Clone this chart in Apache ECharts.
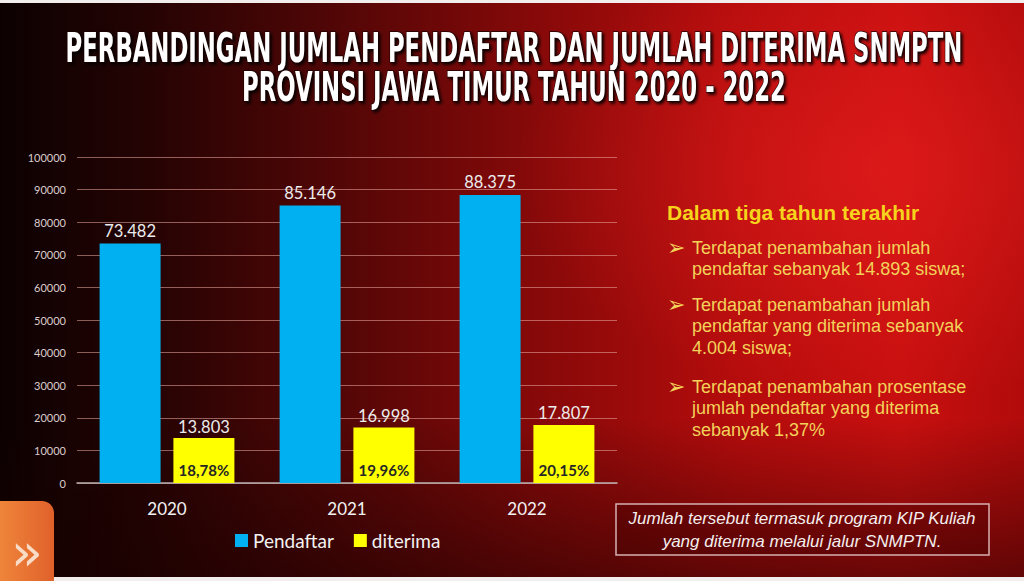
<!DOCTYPE html>
<html>
<head>
<meta charset="utf-8">
<script src="https://cdn.jsdelivr.net/npm/echarts@6/dist/echarts.min.js"></script>
<style>
  html, body { margin: 0; padding: 0; }
  #chart {
    width: 1024px;
    height: 581px;
    background:
      radial-gradient(ellipse 520px 330px at 880px 170px, rgba(240, 35, 35, 0.5), rgba(240, 35, 35, 0) 70%),
      linear-gradient(180deg, rgba(0,0,0,0) 0%, rgba(0,0,0,0) 72%, rgba(25,0,0,0.55) 100%),
      linear-gradient(90deg, #0c0101 0%, #240303 14%, #500606 32%, #860909 52%, #b50c0c 72%, #c80f0f 88%, #b20b0b 100%);
  }
</style>
</head>
<body>
<div id="chart"></div>
<script>
// data
let years = ['2020', '2021', '2022'];
let pendaftar = [73482, 85146, 88375];
let diterima = [13803, 16998, 17807];
let persen = ['18,78%', '19,96%', '20,15%'];
let yTicks = [0, 10000, 20000, 30000, 40000, 50000, 60000, 70000, 80000, 90000, 100000];

let titleLines = [
    'PERBANDINGAN JUMLAH PENDAFTAR DAN JUMLAH DITERIMA SNMPTN',
    'PROVINSI JAWA TIMUR TAHUN 2020 - 2022'
];
let catatanJudul = 'Dalam tiga tahun terakhir';
let catatan = [
    'Terdapat penambahan jumlah\npendaftar sebanyak 14.893 siswa;',
    'Terdapat penambahan jumlah\npendaftar yang diterima sebanyak\n4.004 siswa;',
    'Terdapat penambahan prosentase\njumlah pendaftar yang diterima\nsebanyak 1,37%'
];
let keterangan = 'Jumlah tersebut termasuk program KIP Kuliah\nyang diterima melalui jalur SNMPTN.';

// angka ribuan pakai titik
function ribuan(v) {
    return String(v).replace(/\B(?=(\d{3})+(?!\d))/g, '.');
}

// lebar judul disesuaikan (font condensed)
let titleFont = 'bold 40px "Liberation Sans Narrow", "DejaVu Sans Condensed", sans-serif';
let ctx = document.createElement('canvas').getContext('2d');
ctx.font = titleFont;
let titleScale = 897 / ctx.measureText(titleLines[0]).width;

let yellowText = '#f6d31c';
let bulletText = '#f3d25a';

let graphics = [
    // strip putih atas & bawah
    { type: 'rect', shape: { x: 0, y: 0, width: 1024, height: 3 }, style: { fill: '#f3eeee' } },
    { type: 'rect', shape: { x: 0, y: 577, width: 1024, height: 4 }, style: { fill: '#f3eeee' } },
    // tab oranye kiri bawah
    {
        type: 'rect', shape: { x: -14, y: 501, width: 68, height: 90, r: 12 },
        style: {
            fill: new echarts.graphic.LinearGradient(0, 0, 1, 0, [
                { offset: 0, color: '#f28e3e' },
                { offset: 1, color: '#e0612b' }
            ])
        }
    },
    {
        type: 'text', x: 27, y: 552,
        style: { text: '»', font: '52px "DejaVu Sans", sans-serif', fill: '#f9dcc6', align: 'center', verticalAlign: 'middle' }
    },
    // kotak keterangan
    {
        type: 'rect', shape: { x: 616, y: 504, width: 373, height: 51 },
        style: { fill: 'rgba(60,0,0,0.3)', stroke: '#d6b0b0', lineWidth: 1.5 }
    },
    {
        type: 'text', x: 802, y: 530,
        style: {
            text: keterangan, font: 'italic 17px "Liberation Sans", Arial, sans-serif',
            fill: '#f4eeee', align: 'center', verticalAlign: 'middle', lineHeight: 23
        }
    },
    // judul catatan kanan
    {
        type: 'text', x: 667, y: 212,
        style: { text: catatanJudul, font: 'bold 21px "Liberation Sans", Arial, sans-serif', fill: yellowText, verticalAlign: 'middle' }
    }
];

// judul
titleLines.forEach(function (t, i) {
    graphics.push({
        type: 'text', x: 514, y: i === 0 ? 48 : 87, scaleX: titleScale,
        style: {
            text: t, font: titleFont, fill: '#ffffff', align: 'center', verticalAlign: 'middle',
            stroke: '#1a0000', lineWidth: 1.5,
            textShadowColor: 'rgba(0,0,0,0.9)', textShadowBlur: 3, textShadowOffsetX: 2, textShadowOffsetY: 2
        }
    });
});

// poin-poin catatan
let poinY = [237, 294, 376];
catatan.forEach(function (t, i) {
    graphics.push({
        type: 'text', x: 667, y: poinY[i] + 10,
        style: { text: '➢', font: 'bold 22px "DejaVu Sans", sans-serif', fill: bulletText, verticalAlign: 'middle' }
    });
    graphics.push({
        type: 'text', x: 692, y: poinY[i],
        style: { text: t, font: '18px "Liberation Sans", Arial, sans-serif', fill: bulletText, verticalAlign: 'top', lineHeight: 21.5 }
    });
});

let option = {
    backgroundColor: 'transparent',
    textStyle: { fontFamily: 'Lato, sans-serif' },
    grid: {
        top: 157,
        left: 77,
        right: 407,
        bottom: 98,
        containLabel: false
    },
    legend: {
        data: ['Pendaftar', 'diterima'],
        left: 230,
        top: 526,
        icon: 'rect',
        itemWidth: 13,
        itemHeight: 13,
        itemGap: 20,
        textStyle: { color: '#f2f2f2', fontSize: 19, fontFamily: 'Lato, sans-serif' }
    },
    xAxis: {
        type: 'category',
        data: years,
        axisTick: { show: false },
        axisLine: { show: true, lineStyle: { color: '#b9b0b0', width: 1.5 } },
        axisLabel: { color: '#f2f2f2', fontSize: 17, margin: 17, fontFamily: 'Lato, sans-serif' }
    },
    yAxis: {
        type: 'value',
        min: yTicks[0],
        max: yTicks[yTicks.length - 1],
        interval: yTicks[1] - yTicks[0],
        axisLine: { show: false },
        axisTick: { show: false },
        axisLabel: {
            color: '#dccccc', fontSize: 11, margin: 11, fontFamily: 'Lato, sans-serif',
            formatter: function (v) { return String(v); }
        },
        splitLine: { lineStyle: { color: 'rgba(235,170,160,0.55)', width: 1 } }
    },
    series: [
        {
            name: 'Pendaftar',
            type: 'bar',
            barWidth: 61,
            barGap: '21%',
            itemStyle: { color: '#00b0f0' },
            label: {
                show: true, position: 'top', distance: 4,
                color: '#ececec', fontSize: 16.5, fontFamily: 'Lato, sans-serif',
                formatter: function (p) { return ribuan(p.value); }
            },
            data: pendaftar
        },
        {
            name: 'diterima',
            type: 'bar',
            barWidth: 61,
            itemStyle: { color: '#ffff00' },
            label: {
                show: true, position: 'top', distance: 3,
                color: '#ececec', fontSize: 16.5, fontFamily: 'Lato, sans-serif',
                formatter: function (p) { return ribuan(p.value); }
            },
            // persentase di dalam batang kuning
            markPoint: {
                symbol: 'rect',
                symbolSize: 0,
                label: {
                    show: true, position: 'top', distance: 6,
                    color: '#262626', fontSize: 15, fontWeight: 'bold', fontFamily: 'Lato, sans-serif',
                    formatter: function (p) { return p.name; }
                },
                data: years.map(function (y, i) {
                    return { name: persen[i], coord: [y, 0] };
                })
            },
            data: diterima
        }
    ],
    graphic: graphics
};

var myChart = echarts.init(document.getElementById('chart'), null, { renderer: 'svg' });
myChart.setOption(option, true);
</script>
</body>
</html>
